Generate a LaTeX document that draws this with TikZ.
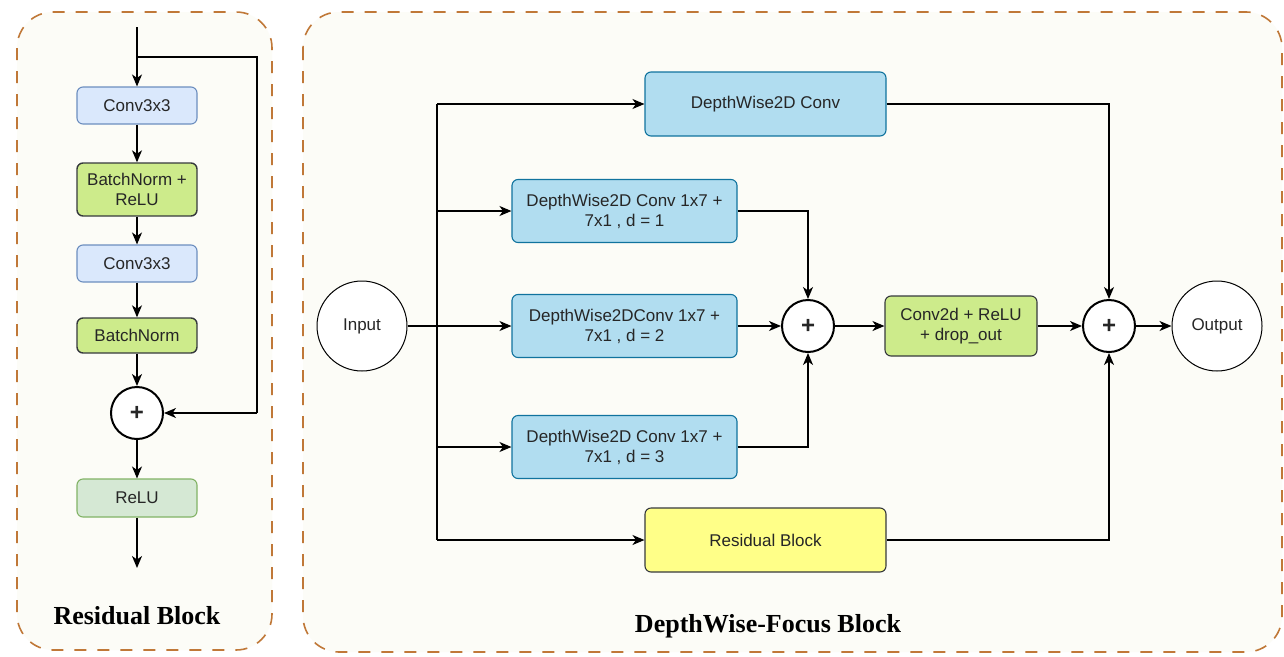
\documentclass[tikz,border=0pt]{standalone}
\usepackage{fontspec}
\setmainfont{Liberation Sans}
\newfontfamily\titlefont{Liberation Serif}
\usetikzlibrary{arrows.meta,calc}
\definecolor{panelbrd}{HTML}{C07838}
\definecolor{panelfill}{HTML}{FCFCF7}
\definecolor{lblue}{HTML}{DAE8FC}
\definecolor{lbluebrd}{HTML}{6C8EBF}
\definecolor{dblue}{HTML}{B1DDF0}
\definecolor{dbluebrd}{HTML}{10739E}
\definecolor{lgreen}{HTML}{CDEB8B}
\definecolor{dgrey}{HTML}{36393D}
\definecolor{pgreen}{HTML}{D5E8D4}
\definecolor{pgreenbrd}{HTML}{82B366}
\definecolor{yel}{HTML}{FFFF88}
\begin{document}
\begin{tikzpicture}[x=1pt,y=-1pt,
  every node/.style={font=\fontsize{17}{20}\selectfont, text=black!85},
  panel/.style={draw=panelbrd, line width=1.6pt, dash pattern=on 12pt off 11pt, fill=panelfill, rounded corners=36pt},
  boxbase/.style={rectangle, rounded corners=6pt, align=center, inner sep=0pt, line width=1.1pt},
  convbox/.style={boxbase, draw=lbluebrd, fill=lblue, minimum width=120pt, minimum height=37pt},
  bnbox/.style={boxbase, draw=dgrey, fill=lgreen, line width=1.4pt, minimum width=120pt},
  relubox/.style={boxbase, draw=pgreenbrd, fill=pgreen, minimum width=120pt, minimum height=38pt},
  dwbox/.style={boxbase, draw=dbluebrd, fill=dblue, minimum height=63pt},
  ybox/.style={boxbase, draw=dgrey, fill=yel, minimum width=241pt, minimum height=64pt},
  gbox/.style={boxbase, draw=dgrey, fill=lgreen, minimum width=152pt, minimum height=60pt},
  plus/.style={circle, draw=black, line width=2pt, fill=white, minimum size=52pt, inner sep=0pt, font=\fontsize{24}{24}\selectfont\bfseries},
  io/.style={circle, draw=black, line width=1pt, fill=white, minimum size=90pt, inner sep=0pt},
  arr/.style={-{Stealth[length=12pt,width=10pt,inset=3.5pt]}, line width=1.3pt, draw=black},
  ln/.style={line width=1.3pt, draw=black},
  ttl/.style={font=\titlefont\fontsize{26}{30}\selectfont\bfseries, text=black}
]
\useasboundingbox (0,0) rectangle (1284,656);
\fill[white] (0,0) rectangle (1284,656);
% panels
\draw[panel] (17,12) rectangle (272,650);
\draw[panel] (303,12) rectangle (1282,652);

% ---------- Residual block ----------
\node[convbox] (c1) at (137,105.5) {Conv3x3};
\node[bnbox, minimum height=53pt] (bn1) at (137,189.5) {BatchNorm +\\ReLU};
\node[convbox] (c2) at (137,263.5) {Conv3x3};
\node[bnbox, minimum height=35pt] (bn2) at (137,335.5) {BatchNorm};
\node[plus] (p0) at (137,413) {+};
\node[relubox] (relu) at (137,498) {ReLU};
\coordinate (rtop) at (137,27);
\coordinate (rbr) at (137,57);
\coordinate (rbrr) at (257,57);
\coordinate (rend) at (137,568);
\draw[arr] (rtop) -- (c1.north);
\draw[ln] (rbr) -- (rbrr) -- (rbrr |- p0);
\draw[arr] (rbrr |- p0) -- (p0.east);
\draw[arr] (c1) -- (bn1);
\draw[arr] (bn1) -- (c2);
\draw[arr] (c2) -- (bn2);
\draw[arr] (bn2) -- (p0);
\draw[arr] (p0) -- (relu);
\draw[arr] (relu.south) -- (rend);
\node[ttl] (t1) at (137,616) {Residual Block};

% ---------- DepthWise-Focus block ----------
\node[io] (in) at (362,326) {Input};
\node[dwbox, minimum width=241pt, minimum height=64pt] (dw0) at (765.5,104) {DepthWise2D Conv};
\node[dwbox, minimum width=225pt] (dw1) at (624.5,211) {DepthWise2D Conv 1x7 +\\7x1 , d = 1};
\node[dwbox, minimum width=225pt] (dw2) at (624.5,326) {DepthWise2DConv 1x7 +\\7x1 , d = 2};
\node[dwbox, minimum width=225pt] (dw3) at (624.5,447) {DepthWise2D Conv 1x7 +\\7x1 , d = 3};
\node[ybox] (res) at (765.5,540) {Residual Block};
\node[plus] (p1) at (808,326) {+};
\node[gbox] (cv) at (961,326) {Conv2d + ReLU\\+ drop\_out};
\node[plus] (p2) at (1109,326) {+};
\node[io] (out) at (1217,326) {Output};

\coordinate (tt) at (437,104);
\coordinate (tb) at (437,540);
\draw[ln] (tt) -- (tb);
\draw[arr] (tt) -- (dw0.west);
\draw[arr] (tt |- dw1) -- (dw1.west);
\draw[arr] (in.east) -- (dw2.west);
\draw[arr] (tt |- dw3) -- (dw3.west);
\draw[arr] (tb) -- (res.west);

\draw[arr] (dw1.east) -| (p1.north);
\draw[arr] (dw2.east) -- (p1.west);
\draw[arr] (dw3.east) -| (p1.south);
\draw[arr] (p1.east) -- (cv.west);
\draw[arr] (cv.east) -- (p2.west);
\draw[arr] (dw0.east) -| (p2.north);
\draw[arr] (res.east) -| (p2.south);
\draw[arr] (p2.east) -- (out.west);

\node[ttl] (t2) at (768,626) {DepthWise-Focus Block};
\end{tikzpicture}
\end{document}
